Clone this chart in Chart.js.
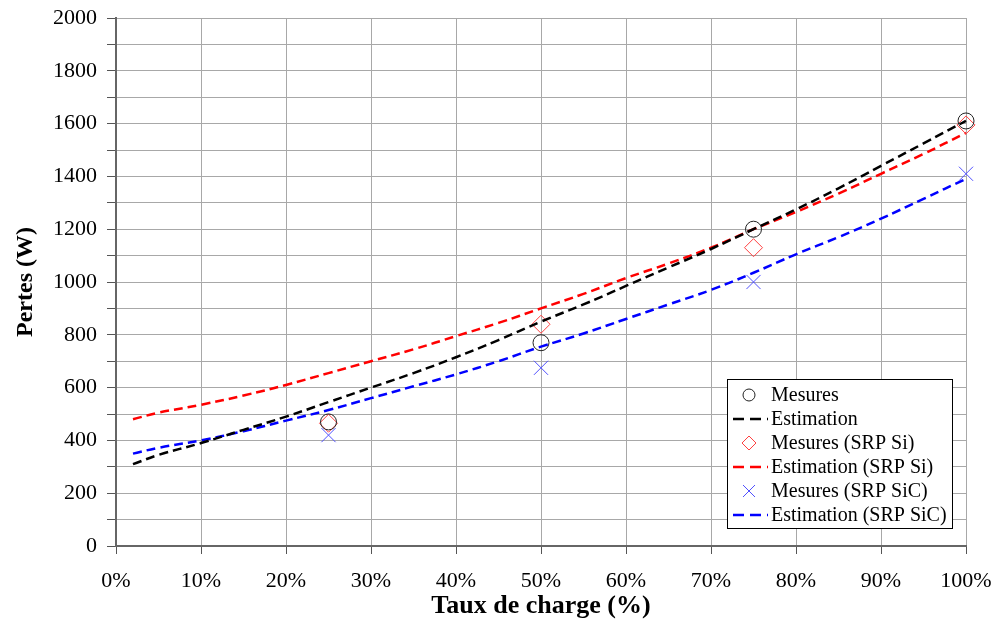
<!DOCTYPE html>
<html>
<head>
<meta charset="utf-8">
<script src="https://cdn.jsdelivr.net/npm/chart.js@4"></script>
<style>
  html, body { margin: 0; padding: 0; background: #fff; }
  #wrap { width: 999px; height: 622px; }
</style>
</head>
<body>
<div id="wrap"><canvas id="lossCanvas" width="999" height="622"></canvas></div>
<script>
// load rate (%) where the estimation curves were sampled
const estX = [2, 5, 10, 15, 20, 25, 30, 35, 40, 45, 50, 55, 60, 65, 70, 75, 80, 85, 90, 95, 100, 101];
const estBase = [310, 345, 390, 440, 490, 545, 600, 655, 715, 780, 850, 915, 985, 1055, 1125, 1200, 1275, 1355, 1440, 1525, 1610, 1625];
const estSi = [480, 505, 535, 570, 610, 655, 700, 745, 795, 845, 900, 955, 1015, 1070, 1130, 1200, 1265, 1335, 1410, 1485, 1565, 1580];
const estSiC = [350, 372, 400, 435, 475, 515, 560, 605, 650, 700, 755, 805, 860, 915, 970, 1035, 1105, 1170, 1240, 1315, 1390, 1400];

// measured points
const mesX = [25, 50, 75, 100];
const mesBase = [470, 770, 1200, 1610];
const mesSi = [465, 840, 1130, 1595];
const mesSiC = [420, 675, 1000, 1410];

const xTicks = [0, 10, 20, 30, 40, 50, 60, 70, 80, 90, 100];

function pts(xs, ys) {
    return xs.map((x, i) => ({ x: x, y: ys[i] }));
}

const serif = "'Liberation Serif', 'Times New Roman', serif";

// legend drawn inside the plot, bottom right
const boxLegend = {
    id: "boxLegend",
    afterDraw(chart) {
        const ctx = chart.ctx;
        const left = 727, top = 379, w = 225, h = 149;
        ctx.save();
        ctx.fillStyle = "#fff";
        ctx.fillRect(left, top, w, h);
        ctx.strokeStyle = "#000";
        ctx.lineWidth = 1;
        ctx.strokeRect(left + 0.5, top + 0.5, w, h);
        ctx.font = "20px " + serif;
        ctx.textBaseline = "middle";
        chart.data.datasets.forEach((ds, i) => {
            const y = top + 16 + i * 24;
            const sx = 749;
            if (ds.showLine === false) {
                ctx.strokeStyle = ds.borderColor;
                ctx.lineWidth = 1;
                ctx.beginPath();
                if (ds.pointStyle === "circle") {
                    ctx.arc(sx, y, 6, 0, Math.PI * 2);
                } else if (ds.pointStyle === "rectRot") {
                    ctx.moveTo(sx, y - 7); ctx.lineTo(sx + 7, y);
                    ctx.lineTo(sx, y + 7); ctx.lineTo(sx - 7, y);
                    ctx.closePath();
                } else {
                    ctx.moveTo(sx - 6, y - 6); ctx.lineTo(sx + 6, y + 6);
                    ctx.moveTo(sx + 6, y - 6); ctx.lineTo(sx - 6, y + 6);
                }
                ctx.stroke();
            } else {
                ctx.strokeStyle = ds.borderColor;
                ctx.lineWidth = 2.5;
                ctx.setLineDash([11, 6]);
                ctx.beginPath();
                ctx.moveTo(733, y);
                ctx.lineTo(768, y);
                ctx.stroke();
                ctx.setLineDash([]);
            }
            ctx.fillStyle = "#000";
            ctx.fillText(ds.label, 771, y + 1);
        });
        ctx.restore();
    }
};

const lossCanvas = document.getElementById("lossCanvas");

const lossChart = new Chart(lossCanvas, {
    type: "scatter",
    data: {
        datasets: [{
            label: "Mesures",
            data: pts(mesX, mesBase),
            showLine: false,
            pointStyle: "circle",
            pointRadius: 8,
            borderColor: "#222",
            backgroundColor: "rgba(0,0,0,0)",
            pointBorderWidth: 1,
            clip: false
        }, {
            label: "Estimation",
            data: pts(estX, estBase),
            showLine: true,
            borderColor: "#000",
            borderWidth: 2.5,
            borderDash: [9, 5],
            pointRadius: 0,
            tension: 0.4,
            clip: false
        }, {
            label: "Mesures (SRP Si)",
            data: pts(mesX, mesSi),
            showLine: false,
            pointStyle: "rectRot",
            pointRadius: 9,
            borderColor: "#ff4040",
            backgroundColor: "rgba(0,0,0,0)",
            pointBorderWidth: 1,
            clip: false
        }, {
            label: "Estimation (SRP Si)",
            data: pts(estX, estSi),
            showLine: true,
            borderColor: "#ff0000",
            borderWidth: 2.5,
            borderDash: [9, 5],
            pointRadius: 0,
            tension: 0.4,
            clip: false
        }, {
            label: "Mesures (SRP SiC)",
            data: pts(mesX, mesSiC),
            showLine: false,
            pointStyle: "crossRot",
            pointRadius: 10,
            borderColor: "#5050ff",
            backgroundColor: "rgba(0,0,0,0)",
            pointBorderWidth: 1,
            clip: false
        }, {
            label: "Estimation (SRP SiC)",
            data: pts(estX, estSiC),
            showLine: true,
            borderColor: "#0000ff",
            borderWidth: 2.5,
            borderDash: [9, 5],
            pointRadius: 0,
            tension: 0.4,
            clip: false
        }]
    },
    options: {
        responsive: false,
        animation: false,
        layout: {
            padding: { top: 18, right: 33, left: 11, bottom: 0 }
        },
        plugins: {
            legend: { display: false },
            tooltip: { enabled: false }
        },
        scales: {
            x: {
                type: "linear",
                min: 0,
                max: 100,
                afterBuildTicks: (scale) => {
                    scale.ticks = xTicks.map(v => ({ value: v }));
                },
                afterFit: (scale) => {
                    scale.height = 76;
                    scale.paddingLeft = 0;
                    scale.paddingRight = 0;
                },
                ticks: {
                    callback: (v) => v + "%",
                    color: "#000",
                    padding: 14,
                    maxRotation: 0,
                    font: { family: serif, size: 22 }
                },
                grid: {
                    color: "#a8a8a8",
                    tickColor: "#555",
                    tickLength: 8
                },
                border: { color: "#666", width: 2 },
                title: {
                    display: true,
                    text: "Taux de charge (%)",
                    color: "#000",
                    padding: { top: 0, bottom: 0 },
                    font: { family: serif, size: 26, weight: "bold" }
                }
            },
            y: {
                min: 0,
                max: 2000,
                afterFit: (scale) => {
                    scale.width = 105;
                    scale.paddingTop = 0;
                    scale.paddingBottom = 0;
                },
                ticks: {
                    stepSize: 100,
                    autoSkip: false,
                    callback: (v) => (v % 200 === 0 ? v : ""),
                    color: "#000",
                    padding: 10,
                    font: { family: serif, size: 22 }
                },
                grid: {
                    color: "#a8a8a8",
                    tickColor: "#555",
                    tickLength: 9
                },
                border: { color: "#666", width: 2 },
                title: {
                    display: true,
                    text: "Pertes (W)",
                    color: "#000",
                    padding: { top: 0, bottom: 4 },
                    font: { family: serif, size: 24, weight: "bold" }
                }
            }
        }
    },
    plugins: [boxLegend]
});
</script>
</body>
</html>
